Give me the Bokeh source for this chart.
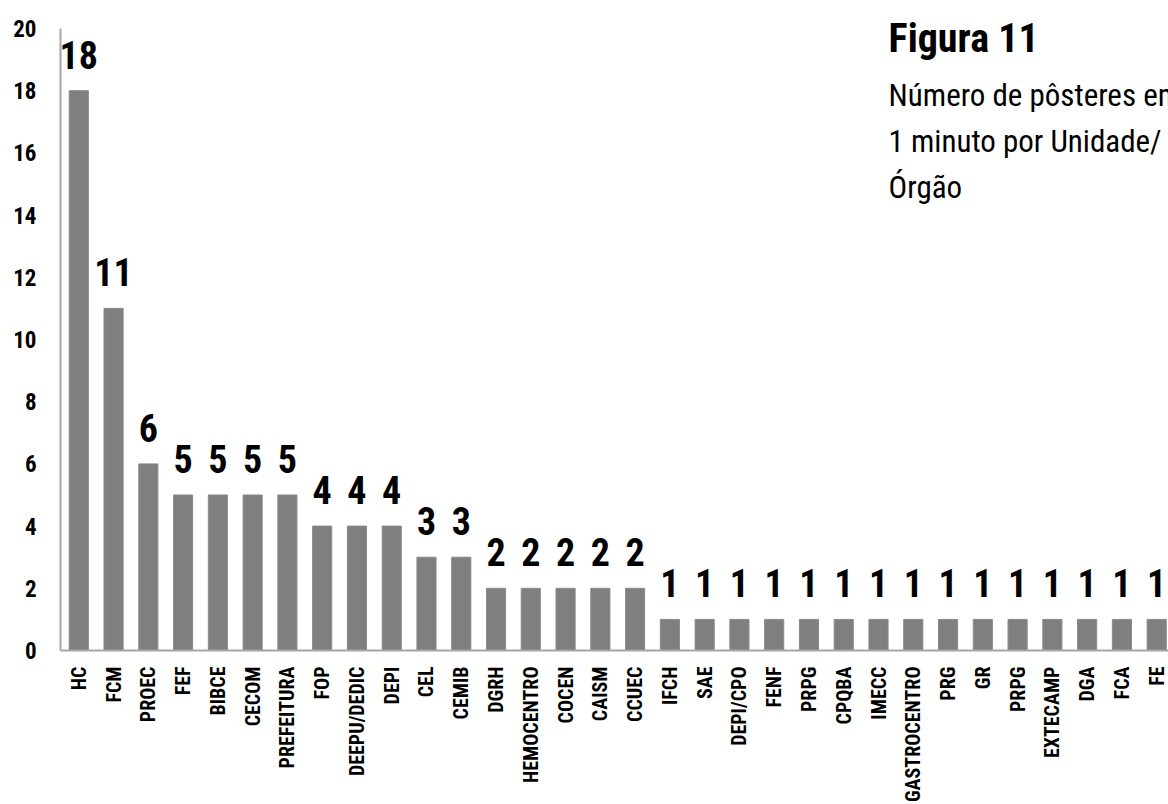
import numpy as np
from bokeh.plotting import figure
from bokeh.models import ColumnDataSource, FixedTicker, Label, Range1d
from bokeh.core.properties import value
from bokeh.embed import file_html
from bokeh.resources import INLINE

categories = ["HC", "FCM", "PROEC", "FEF", "BIBCE", "CECOM", "PREFEITURA", "FOP",
              "DEEPU/DEDIC", "DEPI", "CEL", "CEMIB", "DGRH", "HEMOCENTRO", "COCEN",
              "CAISM", "CCUEC", "IFCH", "SAE", "DEPI/CPO", "FENF", "PRPG", "CPQBA",
              "IMECC", "GASTROCENTRO", "PRG", "GR", "PRPG", "EXTECAMP", "DGA", "FCA", "FE"]
counts = [18, 11, 6, 5, 5, 5, 5, 4, 4, 4, 3, 3, 2, 2, 2, 2, 2,
          1, 1, 1, 1, 1, 1, 1, 1, 1, 1, 1, 1, 1, 1, 1]
y_ticks = [0, 2, 4, 6, 8, 10, 12, 14, 16, 18, 20]
title_text = "Figura 11"
subtitle_lines = ["Número de pôsteres em", "1 minuto por Unidade/", "Órgão"]

FONT = "'Roboto Condensed', 'DejaVu Sans Condensed', sans-serif"

xs = list(range(len(categories)))
src = ColumnDataSource(dict(x=xs, y=counts, lab=[str(c) for c in counts]))

p = figure(frame_width=1108, frame_height=650, output_backend="svg", toolbar_location=None,
           x_range=Range1d(-0.526, 31.34), y_range=Range1d(0, 20.9),
           min_border_left=60, min_border_right=0, min_border_top=0, min_border_bottom=140)
p.outline_line_color = None
p.grid.grid_line_color = None
p.background_fill_color = "white"
p.border_fill_color = "white"

p.vbar(x="x", top="y", width=0.55, bottom=0, source=src,
       fill_color="#7f7f7f", line_color="#8a8a8a", line_width=1)

p.text(x="x", y="y", text="lab", source=src, text_align="center", text_baseline="alphabetic",
       y_offset=-36, text_font=value(FONT), text_font_size="38px", text_font_style="bold",
       text_color="black")

# axes
p.xaxis.ticker = FixedTicker(ticks=xs)
p.xaxis.major_label_overrides = {i: c for i, c in enumerate(categories)}
p.xaxis.major_label_orientation = np.pi / 2
p.xaxis.major_tick_line_color = None
p.xaxis.minor_tick_line_color = None
p.xaxis.major_tick_out = 0
p.xaxis.major_tick_in = 0
p.xaxis.axis_line_color = "#a6a6a6"
p.xaxis.axis_line_width = 2
p.xaxis.major_label_standoff = 16
p.xaxis.major_label_text_font = FONT
p.xaxis.major_label_text_font_size = "20px"
p.xaxis.major_label_text_font_style = "bold"
p.xaxis.major_label_text_color = "black"

p.yaxis.ticker = FixedTicker(ticks=y_ticks)
p.yaxis.bounds = (0, 20)
p.yaxis.major_tick_line_color = None
p.yaxis.minor_tick_line_color = None
p.yaxis.major_tick_out = 0
p.yaxis.major_tick_in = 0
p.yaxis.axis_line_color = "#a6a6a6"
p.yaxis.axis_line_width = 2
p.yaxis.major_label_standoff = 24
p.yaxis.major_label_text_font = FONT
p.yaxis.major_label_text_font_size = "23px"
p.yaxis.major_label_text_font_style = "bold"
p.yaxis.major_label_text_color = "black"

# title block
p.add_layout(Label(x=23.29, y=19.69, text=title_text, text_font=FONT, text_font_size="40px",
                   text_font_style="bold", text_color="black", text_baseline="alphabetic"))
for yy, line in zip([17.86, 16.38, 14.90], subtitle_lines):
    p.add_layout(Label(x=23.29, y=yy, text=line, text_font=FONT, text_font_size="31px",
                       text_color="black", text_baseline="alphabetic"))

open("out.html", "w").write(file_html(p, INLINE))
